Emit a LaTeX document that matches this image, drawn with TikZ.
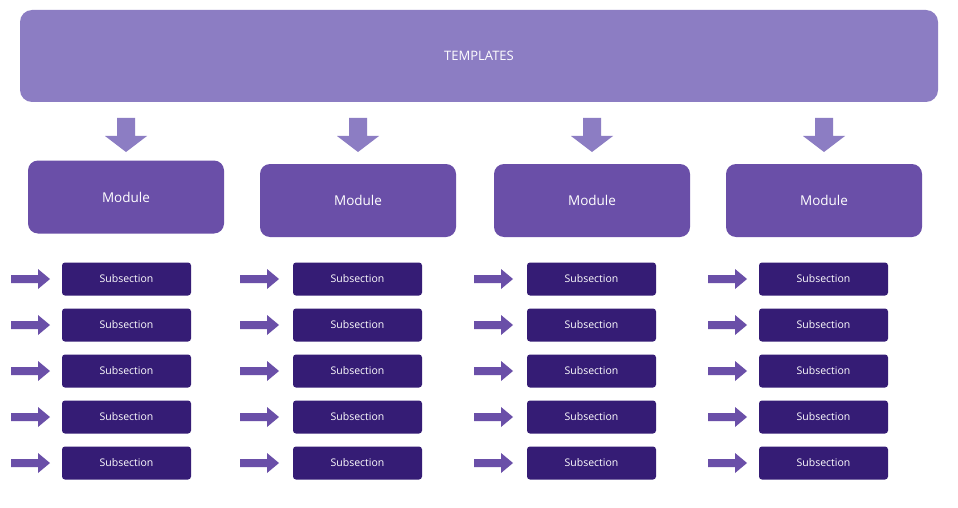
\documentclass[tikz,border=0pt]{standalone}
\usepackage{fontspec}
\setmainfont{Open Sans}
\begin{document}
\begin{tikzpicture}[x=1pt,y=-1pt,
  tpl/.style={fill=tplc,rounded corners=12pt,text=white,font=\fontsize{13}{15}\selectfont},
  mod/.style={fill=modc,rounded corners=10pt,text=white,minimum width=196pt,minimum height=73pt,font=\fontsize{13.5}{16}\selectfont},
  sub/.style={fill=subc,rounded corners=3pt,text=white,minimum width=129pt,minimum height=33pt,font=\fontsize{10.5}{12}\selectfont},
  down/.style={fill=tplc},
  side/.style={fill=modc}]
\definecolor{tplc}{HTML}{8C7DC3}
\definecolor{modc}{HTML}{6A4FA8}
\definecolor{subc}{HTML}{351C75}
\path[use as bounding box,fill=white] (0,0) rectangle (958,508);
\node[tpl,minimum width=918pt,minimum height=92pt] (tpl) at (479,56) {TEMPLATES};
\foreach \i/\x/\y in {1/126/197,2/358/200.5,3/592/200.5,4/824/200.5}{
  \node[mod] (m\i) at (\x,\y) {Module};
  \fill[down] (\x-9,118) -- (\x+9,118) -- (\x+9,136) -- (\x+21,136) -- (\x,152) -- (\x-21,136) -- (\x-9,136) -- cycle;
}
\foreach \i/\x/\a in {1/126.5/11,2/357.5/240,3/591.5/474,4/823.5/708}{
  \foreach \j/\y in {1/279,2/325,3/371,4/417,5/463}{
    \node[sub] (s\i\j) at (\x,\y) {Subsection};
    \fill[side] (\a,\y-4) -- (\a+27,\y-4) -- (\a+27,\y-10) -- (\a+39,\y) -- (\a+27,\y+10) -- (\a+27,\y+4) -- (\a,\y+4) -- cycle;
  }
}
\end{tikzpicture}
\end{document}
